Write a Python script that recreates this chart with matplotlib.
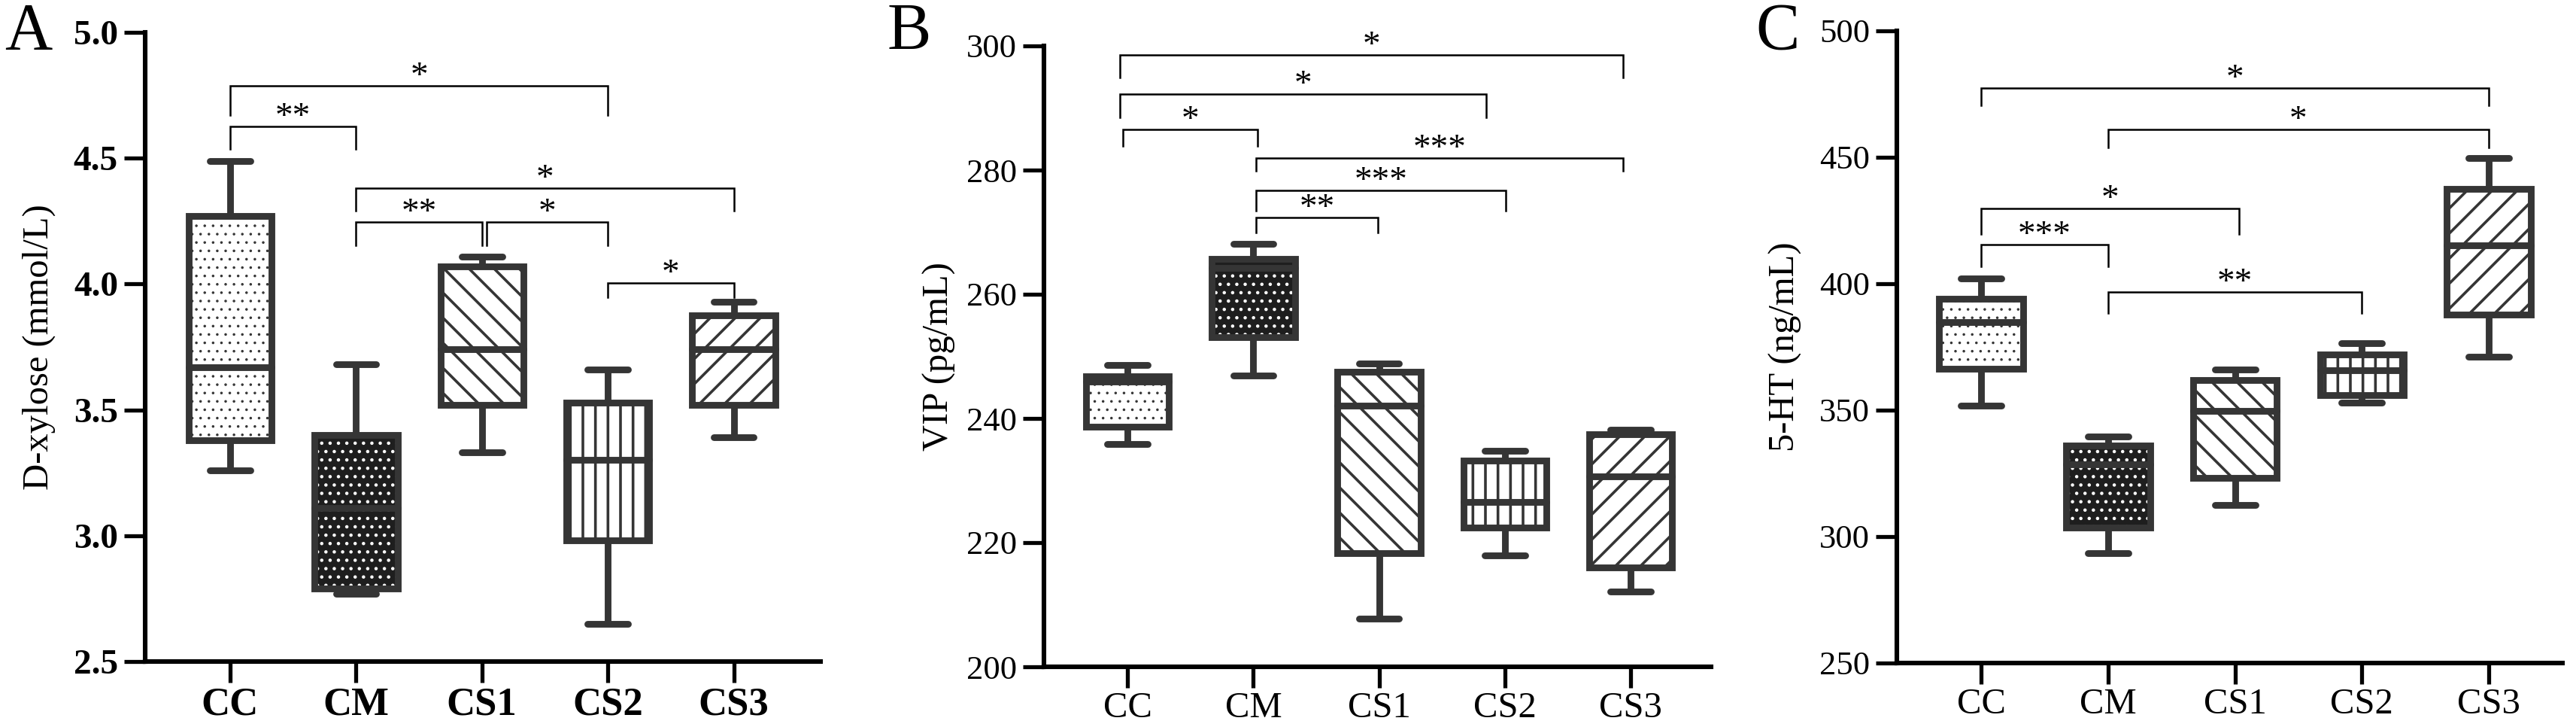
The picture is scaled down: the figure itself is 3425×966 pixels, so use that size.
import matplotlib
matplotlib.use('Agg')
import matplotlib.pyplot as plt
from matplotlib.patches import PathPatch

plt.rcParams['font.family'] = ['Liberation Serif', 'DejaVu Serif']

groups = ['CC', 'CM', 'CS1', 'CS2', 'CS3']
positions = [1, 2, 3, 4, 5]
hatches = ['...', '...', '\\\\', '||', '//']
hatch_lw = [0.45, 0.8, 1.3, 1.3, 1.3]

# Panel A: D-xylose (mmol/L)
a_whislo = [3.26, 2.77, 3.33, 2.65, 3.39]
a_q1 = [3.38, 2.79, 3.52, 2.98, 3.52]
a_med = [3.67, 3.11, 3.74, 3.30, 3.74]
a_q3 = [4.27, 3.40, 4.07, 3.53, 3.875]
a_whishi = [4.49, 3.68, 4.11, 3.66, 3.93]
a_yticks = [2.5, 3.0, 3.5, 4.0, 4.5, 5.0]
# brackets: x1, x2, y_top, y_leg_left, y_leg_right, label
a_brackets = [
    (1, 4, 4.788, 4.672, 4.672, '*'),
    (1, 2, 4.627, 4.537, 4.537, '**'),
    (2, 5, 4.382, 4.290, 4.290, '*'),
    (2, 3, 4.247, 4.155, 4.155, '**'),
    (3.04, 4, 4.247, 4.155, 4.155, '*'),
    (4, 5, 4.004, 3.948, 3.948, '*'),
]

# Panel B: VIP (pg/mL)
b_whislo = [235.9, 246.9, 207.8, 217.9, 212.1]
b_q1 = [238.7, 253.1, 218.3, 222.4, 216.0]
b_med = [246.0, 264.2, 242.1, 226.5, 230.7]
b_q3 = [246.8, 265.7, 247.5, 233.2, 237.4]
b_whishi = [248.6, 268.1, 248.8, 234.8, 238.2]
b_yticks = [200, 220, 240, 260, 280, 300]
b_brackets = [
    (0.94, 4.94, 298.6, 294.9, 294.9, '*'),
    (0.94, 3.85, 292.2, 288.5, 288.5, '*'),
    (0.965, 2.035, 286.5, 283.9, 283.9, '*'),
    (2.02, 4.94, 281.9, 279.9, 279.9, '***'),
    (2.02, 4.01, 276.7, 273.5, 273.5, '***'),
    (2.02, 2.99, 272.4, 270.0, 270.0, '**'),
]

# Panel C: 5-HT (ng/mL)
c_whislo = [351.7, 293.4, 312.5, 353.1, 371.0]
c_q1 = [366.4, 303.5, 323.2, 355.9, 387.9]
c_med = [384.7, 328.7, 349.8, 365.8, 415.1]
c_q3 = [393.9, 336.0, 361.8, 371.9, 437.5]
c_whishi = [402.2, 339.7, 366.0, 376.5, 449.6]
c_yticks = [250, 300, 350, 400, 450, 500]
c_brackets = [
    (1, 5, 477.5, 470.4, 470.4, '*'),
    (2, 5, 461.0, 454.0, 454.0, '*'),
    (1, 3.03, 429.8, 419.7, 419.7, '*'),
    (1, 2, 415.6, 406.8, 406.8, '***'),
    (2, 4, 396.7, 388.4, 388.4, '**'),
]

DARK = '#353535'
LW = 3.2
W, H = 3425, 966
DPI = 200
fig = plt.figure(figsize=(W / DPI, H / DPI), dpi=DPI)


def fx(px):
    return px / W


def fy(py):
    return 1 - py / H


panels = [
    dict(rect=(193, 1091, 43, 879), xlim=(0.325, 5.69),
         stats=(a_whislo, a_q1, a_med, a_q3, a_whishi), ylim=(2.5, 5.0),
         yticks=a_yticks, fmt='{:.1f}', brackets=a_brackets, bold=True,
         ylab='D-xylose (mmol/L)', ylab_x=52, letter='A', letter_x=6,
         yfs=17, xfs=19),
    dict(rect=(1388, 2275, 61, 886), xlim=(0.335, 5.64),
         stats=(b_whislo, b_q1, b_med, b_q3, b_whishi), ylim=(200, 300),
         yticks=b_yticks, fmt='{:d}', brackets=b_brackets, bold=False,
         ylab='VIP (pg/mL)', ylab_x=1249, letter='B', letter_x=1179,
         yfs=16, xfs=17.5),
    dict(rect=(2522, 3407, 41, 881), xlim=(0.336, 5.58),
         stats=(c_whislo, c_q1, c_med, c_q3, c_whishi), ylim=(250, 500),
         yticks=c_yticks, fmt='{:d}', brackets=c_brackets, bold=False,
         ylab='5-HT (ng/mL)', ylab_x=2374, letter='C', letter_x=2334,
         yfs=16, xfs=17.5),
]

for p in panels:
    l, r, t, b = p['rect']
    ax = fig.add_axes([fx(l), fy(b), fx(r) - fx(l), fy(t) - fy(b)])
    lo, q1, md, q3, hi = p['stats']
    for i in range(5):
        st = [dict(med=md[i], q1=q1[i], q3=q3[i], whislo=lo[i], whishi=hi[i],
                   label=groups[i])]
        with plt.rc_context({'hatch.linewidth': hatch_lw[i]}):
            res = ax.bxp(st, positions=[positions[i]], widths=0.66, capwidths=0.32,
                         patch_artist=True, showfliers=False, manage_ticks=False,
                         boxprops=dict(facecolor='white', edgecolor=DARK, linewidth=LW),
                         whiskerprops=dict(color=DARK, linewidth=LW, solid_capstyle='butt'),
                         capprops=dict(color=DARK, linewidth=LW, solid_capstyle='round'),
                         medianprops=dict(color=DARK, linewidth=LW, solid_capstyle='round'))
            patch = res['boxes'][0]
            patch.set_hatch(hatches[i])
            try:
                patch.set_hatch_linewidth(hatch_lw[i])
            except Exception:
                pass
            if i == 1:
                # dark checker: white dots on a dark fill, outline drawn on top
                patch.set_facecolor('#1e1e1e')
                patch.set_edgecolor('white')
                patch.set_linewidth(0)
                ax.add_patch(PathPatch(patch.get_path(), facecolor='none',
                                       edgecolor=DARK, linewidth=LW,
                                       zorder=patch.get_zorder() + 0.01))
    ax.set_xlim(*p['xlim'])
    ax.set_ylim(*p['ylim'])
    ax.set_yticks(p['yticks'])
    ax.set_yticklabels([p['fmt'].format(v) for v in p['yticks']],
                       fontsize=p['yfs'], fontweight='bold' if p['bold'] else 'normal')
    ax.set_xticks(positions)
    ax.set_xticklabels(groups, fontsize=p['xfs'],
                       fontweight='bold' if p['bold'] else 'normal')
    for s in ['top', 'right']:
        ax.spines[s].set_visible(False)
    for s in ['left', 'bottom']:
        ax.spines[s].set_linewidth(2.2)
    ax.tick_params(axis='both', length=10, width=1.9, direction='out')
    ax.tick_params(axis='x', pad=2)
    ax.tick_params(axis='y', pad=3)
    for (x1, x2, yt, yl1, yl2, lab) in p['brackets']:
        ax.plot([x1, x1, x2, x2], [yl1, yt, yt, yl2], color='black', lw=0.9,
                clip_on=False, solid_joinstyle='miter')
        ax.text((x1 + x2) / 2, yt, lab, ha='center', va='baseline', fontsize=17)
    fig.text(fx(p['ylab_x']), fy((t + b) / 2), p['ylab'], rotation=90,
             ha='center', va='center', fontsize=17.5)
    fig.text(fx(p['letter_x']), fy(65), p['letter'], ha='left', va='baseline',
             fontsize=31.5)

fig.savefig('out.png', dpi=DPI)
